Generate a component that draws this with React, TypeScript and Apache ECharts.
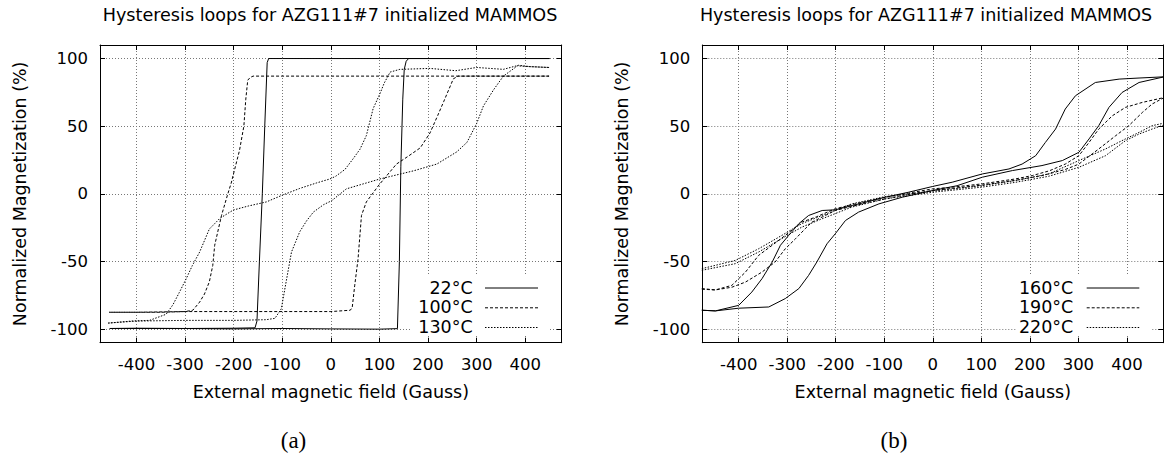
import React, { useEffect, useRef } from "react";
import * as echarts from "echarts";

// ---- texts & ticks ----
const titleText = "Hysteresis loops for AZG111#7 initialized MAMMOS";
const xName = "External magnetic field (Gauss)";
const yName = "Normalized Magnetization (%)";
const xTicks = [-400, -300, -200, -100, 0, 100, 200, 300, 400];
const yTicks = [-100, -50, 0, 50, 100];
const leftLabels = ["22°C", "100°C", "130°C"];
const rightLabels = ["160°C", "190°C", "220°C"];
const captions = ["(a)", "(b)"];

// ---- (a) 22°C ----
const t22Down = [[450, 100], [300, 100], [100, 100], [-100, 100], [-128, 100], [-131, 97], [-136, 50], [-141, 0], [-147, -50], [-152, -94], [-156, -99], [-200, -99.3], [-300, -99.5], [-400, -99.3], [-455, -99.5]];
const t22Up = [[-455, -99.5], [-300, -99.5], [-200, -99.8], [-100, -99.5], [0, -99.8], [100, -100], [137, -99.6], [141, -50], [144, 20], [148, 70], [151, 92], [155, 98], [160, 100], [300, 100], [450, 100]];
// ---- (a) 100°C ----
const t100Down = [[449, 87], [300, 87], [0, 87], [-100, 87], [-160, 87], [-166, 86], [-171, 84], [-175, 70], [-179, 50], [-188, 32], [-198, 18], [-205, 8], [-212, 0], [-225, -16], [-239, -38], [-243, -53], [-250, -65], [-260, -74], [-270, -80], [-284, -86], [-300, -87], [-350, -87.5], [-400, -87.5], [-456, -87.5]];
const t100Up = [[-456, -87.5], [-400, -87.5], [-300, -87], [-200, -87], [-100, -87], [0, -87], [40, -86], [44, -84], [49, -68], [56, -48], [63, -16], [73, -6], [100, 7], [135, 22], [160, 28], [184, 34], [204, 45], [220, 58], [232, 68], [245, 79], [252, 85], [262, 87], [300, 87], [449, 87]];
// ---- (a) 130°C ----
const t130Down = [[449, 93.4], [410, 94], [386, 95], [355, 92], [300, 93.4], [257, 91], [204, 92.7], [142, 92], [122, 90], [110, 82], [101, 74], [87, 63], [73, 43], [60, 33], [46, 26], [29, 18], [10, 13], [-2, 11], [-30, 8], [-64, 4], [-100, -1], [-133, -6], [-170, -9], [-201, -12], [-228, -18], [-250, -26], [-270, -43], [-285, -53], [-298, -63], [-312, -73], [-325, -82], [-339, -89], [-373, -93.5], [-410, -94], [-458, -95.5]];
const t130Up = [[-458, -95.5], [-400, -94], [-300, -93.5], [-200, -93.5], [-133, -93], [-115, -92], [-102, -85], [-91, -63], [-81, -43], [-64, -28], [-50, -20], [-36, -13.5], [-15, -8], [2, -5], [32, 3.7], [101, 11], [170, 17], [218, 22], [259, 31], [280, 38], [300, 52], [314, 65], [335, 77], [355, 87], [384, 94.6], [410, 94], [449, 93.4]];

// ---- (b) 160°C ----
const t160A = [[-476, -86], [-448, -86.5], [-400, -82.4], [-373, -72.6], [-352, -62.7], [-331, -50.4], [-314, -38], [-297, -30.7], [-276, -22], [-256, -16], [-228, -12.3], [-201, -11.8], [-166, -8.6], [-98, -2.5], [-50, 1.2], [0, 5.5], [40, 8.6], [102, 14.7], [157, 18.4], [184, 22], [212, 28.2], [232, 38], [253, 47.9], [273, 62.7], [294, 72.5], [335, 82.3], [384, 84.8], [425, 85.6], [477, 86.5]];
const t160B = [[-476, -86], [-448, -86.5], [-400, -84.5], [-338, -83.6], [-304, -77.4], [-276, -70], [-256, -60.3], [-239, -50.4], [-218, -36.9], [-201, -29.5], [-180, -19.7], [-153, -13.5], [-111, -7.4], [-63, -2.5], [0, 2.5], [50, 6], [102, 12.3], [164, 17.2], [225, 20.9], [267, 24.6], [301, 30.7], [322, 40.6], [342, 50.4], [363, 63.9], [390, 74.9], [425, 82.3], [477, 86.5]];
// ---- (b) 190°C ----
const t190A = [[-476, -70], [-448, -71], [-414, -67.6], [-386, -57.8], [-359, -45.5], [-331, -38], [-304, -30.7], [-270, -20.9], [-240, -17], [-201, -11], [-160, -7.4], [-98, -2.5], [0, 3.7], [40, 4.9], [102, 7.4], [170, 11], [205, 13.5], [240, 17], [273, 22], [301, 28.2], [322, 38], [342, 47.9], [370, 57.7], [397, 63.9], [432, 67.6], [477, 71.2]];
const t190B = [[-476, -70.5], [-448, -71], [-414, -69], [-386, -65.2], [-352, -57.8], [-325, -50.4], [-304, -40.6], [-283, -33.2], [-263, -25.8], [-249, -20.9], [-201, -12.3], [-132, -6.2], [-63, -1.2], [0, 2.5], [40, 4], [102, 6.5], [170, 10], [225, 13.5], [273, 18], [301, 22], [342, 33.2], [377, 43], [404, 50.4], [432, 60.2], [452, 66.4], [477, 71.2]];
// ---- (b) 220°C ----
const t220A = [[-476, -55.3], [-407, -49.2], [-359, -40.6], [-311, -30.7], [-270, -22], [-228, -16], [-167, -7.4], [-98, -2], [0, 2], [102, 6.1], [170, 9.8], [239, 14.7], [301, 24.6], [356, 33.2], [397, 40.6], [425, 45.4], [452, 50.4], [477, 52.3]];
const t220B = [[-476, -56.5], [-407, -51.6], [-359, -43], [-311, -33], [-270, -24.6], [-228, -18.4], [-167, -9.8], [-98, -3.7], [0, 1.2], [102, 5], [170, 8.5], [239, 13], [301, 19.6], [356, 28.2], [397, 39.3], [425, 44.2], [452, 47.9], [477, 51]];

const SANS = "DejaVu Sans";
const SOLID = "solid";
const DASH = [3, 2];
const DOT = [1.5, 1.5];

function xAxisFor(gridIndex: number, main: boolean) {
  return {
    type: "value",
    gridIndex,
    position: main ? "bottom" : "top",
    min: -475,
    max: 475,
    name: main ? xName : "",
    nameLocation: "middle",
    nameGap: 40,
    nameTextStyle: { fontFamily: SANS, fontSize: 17.5, color: "#000" },
    axisLine: { show: true, onZero: false, lineStyle: { color: "#000", width: 1 } },
    axisTick: { show: true, inside: true, length: 5, customValues: xTicks, lineStyle: { color: "#000", width: 1 } },
    axisLabel: { show: main, customValues: xTicks, margin: 13, fontFamily: SANS, fontSize: 16.5, color: "#000" },
    splitLine: { show: main, lineStyle: { type: [1, 2], color: "#777", width: 1 } },
  };
}

function yAxisFor(gridIndex: number, main: boolean) {
  return {
    type: "value",
    gridIndex,
    position: main ? "left" : "right",
    min: -110,
    max: 110,
    name: main ? yName : "",
    nameLocation: "middle",
    nameGap: 71,
    nameTextStyle: { fontFamily: SANS, fontSize: 17.5, color: "#000" },
    axisLine: { show: true, onZero: false, lineStyle: { color: "#000", width: 1 } },
    axisTick: { show: true, inside: true, length: 5, customValues: yTicks, lineStyle: { color: "#000", width: 1 } },
    axisLabel: { show: main, customValues: yTicks, margin: 12, fontFamily: SANS, fontSize: 16.5, color: "#000" },
    splitLine: { show: main, lineStyle: { type: [1, 2], color: "#777", width: 1 } },
  };
}

function branch(name: string, data: number[][], dash: any, xi: number, yi: number) {
  return {
    name,
    type: "line",
    data,
    xAxisIndex: xi,
    yAxisIndex: yi,
    showSymbol: false,
    symbol: "none",
    silent: true,
    clip: true,
    z: 2,
    lineStyle: { color: "#000", width: 1, type: dash },
  };
}

function legendGraphics(labels: string[], textRight: number, lineX1: number, lineX2: number, boxX: number, boxW: number) {
  const ys = [287.5, 307.3, 327];
  const dashes = [SOLID, DASH, DOT];
  const els: any[] = [
    { type: "rect", z: 3, shape: { x: boxX, y: 276, width: boxW, height: 60 }, style: { fill: "#fff" } },
  ];
  labels.forEach((lab, i) => {
    els.push({
      type: "text",
      z: 4,
      x: textRight,
      y: ys[i],
      style: { text: lab, align: "right", verticalAlign: "middle", fontFamily: SANS, fontSize: 17.5, fill: "#000" },
    });
    els.push({
      type: "line",
      z: 4,
      shape: { x1: lineX1, y1: ys[i] + 0.5, x2: lineX2, y2: ys[i] + 0.5 },
      style: { stroke: "#000", lineWidth: 1, lineDash: dashes[i] === SOLID ? null : dashes[i] },
    });
  });
  return els;
}

export default function App() {
  const ref = useRef<HTMLDivElement>(null);
  useEffect(() => {
    if (!ref.current) return;
    const chart = echarts.init(ref.current, null, { renderer: "svg" });
    const option: any = {
      animation: false,
      backgroundColor: "#fff",
      grid: [
        { left: 100, top: 45, width: 461.7, height: 297.7 },
        { left: 702.3, top: 45, width: 461, height: 297.7 },
      ],
      xAxis: [xAxisFor(0, true), xAxisFor(0, false), xAxisFor(1, true), xAxisFor(1, false)],
      yAxis: [yAxisFor(0, true), yAxisFor(0, false), yAxisFor(1, true), yAxisFor(1, false)],
      series: [
        branch(leftLabels[0], t22Down, SOLID, 0, 0),
        branch(leftLabels[0], t22Up, SOLID, 0, 0),
        branch(leftLabels[1], t100Down, DASH, 0, 0),
        branch(leftLabels[1], t100Up, DASH, 0, 0),
        branch(leftLabels[2], t130Down, DOT, 0, 0),
        branch(leftLabels[2], t130Up, DOT, 0, 0),
        branch(rightLabels[0], t160A, SOLID, 2, 2),
        branch(rightLabels[0], t160B, SOLID, 2, 2),
        branch(rightLabels[1], t190A, DASH, 2, 2),
        branch(rightLabels[1], t190B, DASH, 2, 2),
        branch(rightLabels[2], t220A, DOT, 2, 2),
        branch(rightLabels[2], t220B, DOT, 2, 2),
      ],
      graphic: [
        { type: "text", x: 330, y: 15, style: { text: titleText, align: "center", verticalAlign: "middle", fontFamily: SANS, fontSize: 17.6, fill: "#000" } },
        { type: "text", x: 926, y: 15, style: { text: titleText, align: "center", verticalAlign: "middle", fontFamily: SANS, fontSize: 17.5, fill: "#000" } },
        { type: "text", x: 293.5, y: 440, style: { text: captions[0], align: "center", verticalAlign: "middle", fontFamily: "Liberation Serif", fontSize: 23, fill: "#000" } },
        { type: "text", x: 894, y: 440, style: { text: captions[1], align: "center", verticalAlign: "middle", fontFamily: "Liberation Serif", fontSize: 23, fill: "#000" } },
        ...legendGraphics(leftLabels, 472.7, 485, 538, 411, 138),
        ...legendGraphics(rightLabels, 1073.3, 1086.7, 1139.3, 1016, 136),
      ],
    };
    chart.setOption(option);
    return () => chart.dispose();
  }, []);
  return <div ref={ref} style={{ position: "absolute", left: 0, top: 0, width: 1172, height: 456 }} />;
}
